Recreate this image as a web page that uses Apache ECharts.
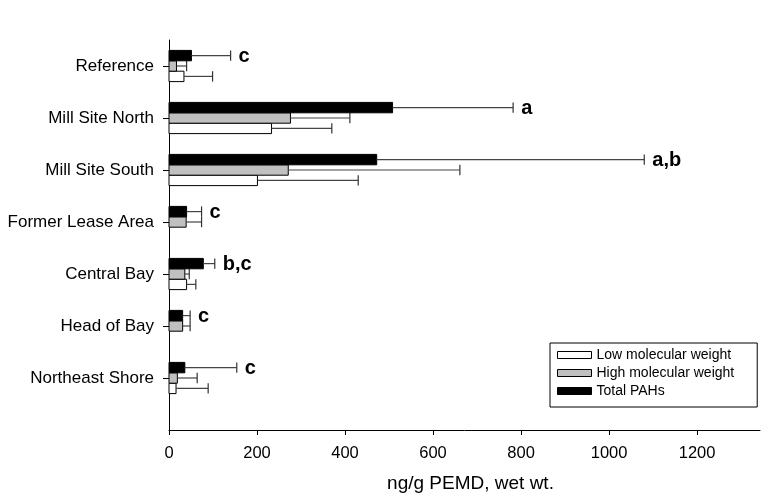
<!DOCTYPE html>
<html>
<head>
<meta charset="utf-8">
<script src="https://cdn.jsdelivr.net/npm/echarts@6/dist/echarts.min.js"></script>
<style>
html,body{margin:0;padding:0;background:#fff;}
#chart{width:761px;height:498px;}
</style>
</head>
<body>
<div id="chart"></div>
<script>
// Categories, top to bottom
var categories = ['Reference', 'Mill Site North', 'Mill Site South', 'Former Lease Area', 'Central Bay', 'Head of Bay', 'Northeast Shore'];
// Means (ng/g PEMD, wet wt.)
var lowMW   = [34, 233, 201, null, 40, null, 16];
var highMW  = [17, 276, 271, 39, 36, 31, 19];
var totalPAH = [51, 508, 472, 40, 78, 31, 36];
// Upper ends of error bars
var lowMWUpper   = [99, 370, 430, null, 61, null, 89];
var highMWUpper  = [40, 411, 661, 74, 46, 48, 64];
var totalPAHUpper = [140, 782, 1080, 74, 104, 48, 154];
// Significance letters
var letters = ['c', 'a', 'a,b', 'c', 'b,c', 'c', 'c'];
var xTicks = [0, 200, 400, 600, 800, 1000, 1200];

var n = categories.length;
var FONT = "'Liberation Sans', Arial, sans-serif";
var BAR = 0.2;

function buildData(vals, ups) {
  return categories.map(function (c, i) {
    return [vals[i] == null ? '-' : vals[i], n - i, ups[i] == null ? '-' : ups[i]];
  });
}

function makeRender(offset, fill, withLetters) {
  return function (params, api) {
    var v = api.value(0), y = api.value(1), up = api.value(2);
    if (v == null || isNaN(v)) return null;
    var yy = y + offset;
    var p0 = api.coord([0, yy]);
    var p1 = api.coord([v, yy]);
    var pu = api.coord([up, yy]);
    var h = api.size([0, BAR])[1];
    var children = [
      {
        type: 'rect',
        shape: { x: p0[0], y: p0[1] - h / 2, width: p1[0] - p0[0], height: h },
        style: { fill: fill, stroke: '#000', lineWidth: 1 }
      },
      {
        type: 'line',
        shape: { x1: p1[0], y1: p1[1], x2: pu[0], y2: pu[1] },
        style: { stroke: '#444', lineWidth: 1.2 }
      },
      {
        type: 'line',
        shape: { x1: pu[0], y1: pu[1] - h / 2, x2: pu[0], y2: pu[1] + h / 2 },
        style: { stroke: '#333', lineWidth: 1.2 }
      }
    ];
    if (withLetters) {
      children.push({
        type: 'text',
        style: {
          x: pu[0] + 8, y: pu[1] + 1,
          text: letters[params.dataIndex],
          fill: '#000',
          font: 'bold 20px ' + FONT,
          textAlign: 'left', textVerticalAlign: 'middle'
        }
      });
    }
    return { type: 'group', children: children };
  };
}

var chart = echarts.init(document.getElementById('chart'));
chart.setOption({
  animation: false,
  backgroundColor: '#fff',
  grid: { left: 169, right: 1, top: 40, bottom: 62, containLabel: false },
  legend: {
    orient: 'vertical',
    left: 550, top: 343,
    itemWidth: 34, itemHeight: 7, itemGap: 4,
    padding: [5, 23, 9, 7],
    borderColor: '#000', borderWidth: 1,
    backgroundColor: '#fff',
    icon: 'rect',
    textStyle: { fontFamily: FONT, fontSize: 14, lineHeight: 14, color: '#000' },
    data: [
      { name: 'Low molecular weight', itemStyle: { color: '#fff', borderColor: '#000', borderWidth: 1 } },
      { name: 'High molecular weight', itemStyle: { color: '#c0c0c0', borderColor: '#000', borderWidth: 1 } },
      { name: 'Total PAHs', itemStyle: { color: '#000', borderColor: '#000', borderWidth: 1 } }
    ]
  },
  xAxis: {
    type: 'value', min: 0, max: 1343, interval: 200,
    name: 'ng/g PEMD, wet wt.', nameLocation: 'middle', nameGap: 44,
    nameTextStyle: { fontFamily: FONT, fontSize: 19, color: '#000', padding: [0, 0, 0, 12] },
    axisLine: { show: true, lineStyle: { color: '#000', width: 1 } },
    axisTick: { show: true, length: 5, lineStyle: { color: '#000' }, customValues: xTicks },
    axisLabel: {
      fontFamily: FONT, fontSize: 16.5, color: '#000', margin: 15, customValues: xTicks,
      formatter: function (v) { return String(v); }
    },
    splitLine: { show: false }
  },
  yAxis: {
    type: 'value', min: 0, max: 7.5, interval: 1,
    axisLine: { show: true, lineStyle: { color: '#000', width: 1 } },
    axisTick: { show: true, length: 6, lineStyle: { color: '#000' }, customValues: [1, 2, 3, 4, 5, 6, 7] },
    axisLabel: {
      fontFamily: FONT, fontSize: 17, color: '#000', margin: 15,
      customValues: [1, 2, 3, 4, 5, 6, 7],
      formatter: function (v) { return categories[n - v] || ''; }
    },
    splitLine: { show: false }
  },
  series: [
    {
      name: 'Low molecular weight', type: 'custom',
      itemStyle: { color: '#fff', borderColor: '#000', borderWidth: 1 },
      encode: { x: 0, y: 1 },
      renderItem: makeRender(-BAR, '#fff', false),
      data: buildData(lowMW, lowMWUpper)
    },
    {
      name: 'High molecular weight', type: 'custom',
      itemStyle: { color: '#c0c0c0', borderColor: '#000', borderWidth: 1 },
      encode: { x: 0, y: 1 },
      renderItem: makeRender(0, '#c0c0c0', false),
      data: buildData(highMW, highMWUpper)
    },
    {
      name: 'Total PAHs', type: 'custom',
      itemStyle: { color: '#000', borderColor: '#000', borderWidth: 1 },
      encode: { x: 0, y: 1 },
      renderItem: makeRender(BAR, '#000', true),
      data: buildData(totalPAH, totalPAHUpper)
    }
  ]
});
</script>
</body>
</html>
